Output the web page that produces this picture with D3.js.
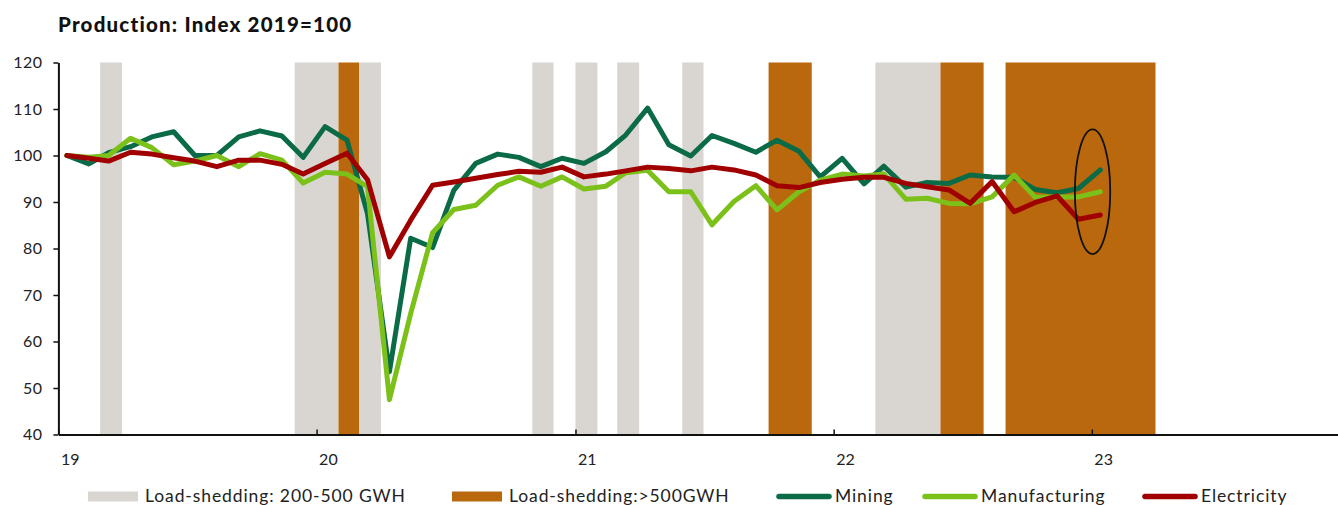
<!DOCTYPE html>
<html>
<head>
<meta charset="utf-8">
<script src="https://cdn.jsdelivr.net/npm/d3@7"></script>
<style>
  html, body { margin: 0; padding: 0; background: #fff; }
  svg { display: block; font-family: Lato, "Open Sans", sans-serif; }
</style>
</head>
<body>
<svg id="chart" width="1338" height="505"></svg>
<script>
// Monthly production indices, Jan 2019 – Jan 2023 (2019 = 100)
const startYear = 2019;
const mining = [
  100, 98.2, 100.6, 101.9, 104, 105.1, 100, 100, 104, 105.3, 104.2, 99.6,
  106.2, 103.3, 87.5, 53.5, 82.2, 80.2, 92.5, 98.3, 100.3, 99.6, 97.6, 99.4,
  98.3, 100.8, 104.4, 110.2, 102.3, 99.9, 104.3, 102.6, 100.7, 103.3, 100.9, 95.4,
  99.4, 93.9, 97.7, 93.2, 94.2, 94.0, 95.8, 95.4, 95.3, 92.7, 92.0, 92.9,
  96.9
];
const manufacturing = [
  100, 99.6, 100, 103.7, 101.7, 98.0, 98.8, 100.0, 97.6, 100.4, 99.0, 94.1,
  96.4, 96.0, 93.3, 47.5, 66, 83.4, 88.4, 89.3, 93.6, 95.4, 93.4, 95.4,
  92.8, 93.4, 96.3, 96.8, 92.2, 92.2, 85.1, 90.1, 93.5, 88.3, 92.2, 94.7,
  96.0, 95.6, 96.0, 90.6, 90.8, 89.7, 89.6, 91.1, 95.8, 91.0, 91.1, 91.1,
  92.2
];
const electricity = [
  100, 99.4, 98.8, 100.7, 100.3, 99.5, 98.8, 97.6, 99.0, 99.0, 98.1, 96.0,
  98.3, 100.5, 94.8, 78.2, 86.1, 93.6, 94.3, 95.1, 95.9, 96.6, 96.4, 97.5,
  95.4, 96.0, 96.7, 97.5, 97.2, 96.7, 97.5, 96.9, 95.8, 93.5, 93.1, 94.2,
  94.9, 95.3, 95.3, 94.0, 93.3, 92.6, 89.7, 94.4, 87.9, 89.9, 91.3, 86.3,
  87.2
];

// Load-shedding periods as [first month, month after last], counted from Jan 2019
const shed200to500 = [[2, 3], [11, 13], [14, 15], [22, 23], [24, 25], [26, 27], [29, 30], [38, 41]];
const shedOver500 = [[13, 14], [33, 35], [41, 43], [44, 51]];

const yearTicks = [2019, 2020, 2021, 2022, 2023];
const yearLabels = ["19", "20", "21", "22", "23"];
const yTicks = [40, 50, 60, 70, 80, 90, 100, 110, 120];

// Highlighted latest reading: month offset, index range covered
const highlight = { month: 48, dayShift: -11, lo: 78.8, hi: 105.6, halfDays: 25 };

const colors = {
  grey: "#d9d6d2",
  orange: "#ba680e",
  mining: "#0b6b46",
  manufacturing: "#7cc11a",
  electricity: "#a00000"
};

const svg = d3.select("#chart");

const monthDate = m => new Date(startYear, m, 1);
const pointDate = m => new Date(startYear, m, 13);

const x = d3.scaleTime()
  .domain([new Date(2019, 0, 1), new Date(2023, 11, 15)])
  .range([58.4, 1338]);
const y = d3.scaleLinear().domain([40, 120]).range([434.5, 62.5]);

// Title
svg.append("text")
  .attr("x", 58).attr("y", 32)
  .attr("font-size", 20.5).attr("font-weight", 900)
  .attr("letter-spacing", 1.2)
  .attr("fill", "#111")
  .text("Production: Index 2019=100");

// Load-shedding shading
const bands = svg.append("g");
const addBands = (list, fill) => {
  bands.selectAll(null).data(list).enter().append("rect")
    .attr("x", d => x(monthDate(d[0])))
    .attr("width", d => x(monthDate(d[1])) - x(monthDate(d[0])))
    .attr("y", y(120))
    .attr("height", y(40) - y(120))
    .attr("fill", fill);
};
addBands(shed200to500, colors.grey);
addBands(shedOver500, colors.orange);

// Series lines
const series = [
  { name: "Mining", values: mining, color: colors.mining },
  { name: "Manufacturing", values: manufacturing, color: colors.manufacturing },
  { name: "Electricity", values: electricity, color: colors.electricity }
];
const line = d3.line()
  .x((d, i) => x(pointDate(i)))
  .y(d => y(d));
svg.append("g").selectAll("path").data(series).enter().append("path")
  .attr("d", s => line(s.values))
  .attr("fill", "none")
  .attr("stroke", s => s.color)
  .attr("stroke-width", 5)
  .attr("stroke-linejoin", "round")
  .attr("stroke-linecap", "round");

// Ellipse around the latest reading
{
  const c = d3.timeDay.offset(pointDate(highlight.month), highlight.dayShift);
  const cx = x(c);
  const rx = x(d3.timeDay.offset(c, highlight.halfDays)) - cx;
  svg.append("ellipse")
    .attr("cx", cx)
    .attr("cy", (y(highlight.lo) + y(highlight.hi)) / 2)
    .attr("rx", rx)
    .attr("ry", (y(highlight.lo) - y(highlight.hi)) / 2)
    .attr("fill", "none")
    .attr("stroke", "#111")
    .attr("stroke-width", 1.8);
}

// Y axis
const yAxis = svg.append("g")
  .attr("transform", `translate(${x.range()[0]},0)`)
  .call(d3.axisLeft(y).tickValues(yTicks).tickSize(5).tickSizeOuter(0).tickPadding(11));
yAxis.select(".domain").attr("stroke", "#111").attr("stroke-width", 2);
yAxis.selectAll(".tick line").attr("stroke", "#111").attr("stroke-width", 1.5);
yAxis.selectAll(".tick text").attr("font-size", 16).attr("fill", "#222")
  .attr("font-family", "Lato, sans-serif").attr("letter-spacing", 0.4);

// X axis
const labelShift = x(new Date(2019, 0, 17)) - x(new Date(2019, 0, 1));
const xAxis = svg.append("g")
  .attr("transform", `translate(0,${y(40)})`)
  .call(d3.axisBottom(x)
    .tickValues(yearTicks.map(yr => new Date(yr, 0, 1)))
    .tickFormat((d, i) => yearLabels[i])
    .tickSize(-5).tickSizeOuter(0).tickPadding(19));
xAxis.select(".domain").attr("stroke", "#111").attr("stroke-width", 2);
xAxis.selectAll(".tick line").attr("stroke", "#111").attr("stroke-width", 1.5);
xAxis.selectAll(".tick text").attr("font-size", 16).attr("fill", "#222")
  .attr("font-family", "Lato, sans-serif")
  .attr("dx", labelShift);

// Legend
const legendItems = [
  { label: "Load-shedding: 200-500 GWH", kind: "rect", color: colors.grey, x: 88 },
  { label: "Load-shedding:>500GWH", kind: "rect", color: colors.orange, x: 452 },
  { label: "Mining", kind: "line", color: colors.mining, x: 776 },
  { label: "Manufacturing", kind: "line", color: colors.manufacturing, x: 922 },
  { label: "Electricity", kind: "line", color: colors.electricity, x: 1142 }
];
const legend = svg.append("g").attr("transform", "translate(0,496.5)");
const li = legend.selectAll("g").data(legendItems).enter().append("g")
  .attr("transform", d => `translate(${d.x},0)`);
li.filter(d => d.kind === "rect").append("rect")
  .attr("x", 0).attr("y", -5).attr("width", 50).attr("height", 10)
  .attr("fill", d => d.color);
li.filter(d => d.kind === "line").append("line")
  .attr("x1", 3).attr("x2", 53).attr("y1", 0).attr("y2", 0)
  .attr("stroke", d => d.color).attr("stroke-width", 5.5).attr("stroke-linecap", "round");
li.append("text")
  .attr("x", d => d.kind === "rect" ? 57 : 59)
  .attr("y", 5.5)
  .attr("font-size", 17.5)
  .attr("letter-spacing", 0.9)
  .attr("fill", "#222")
  .text(d => d.label);
</script>
</body>
</html>
